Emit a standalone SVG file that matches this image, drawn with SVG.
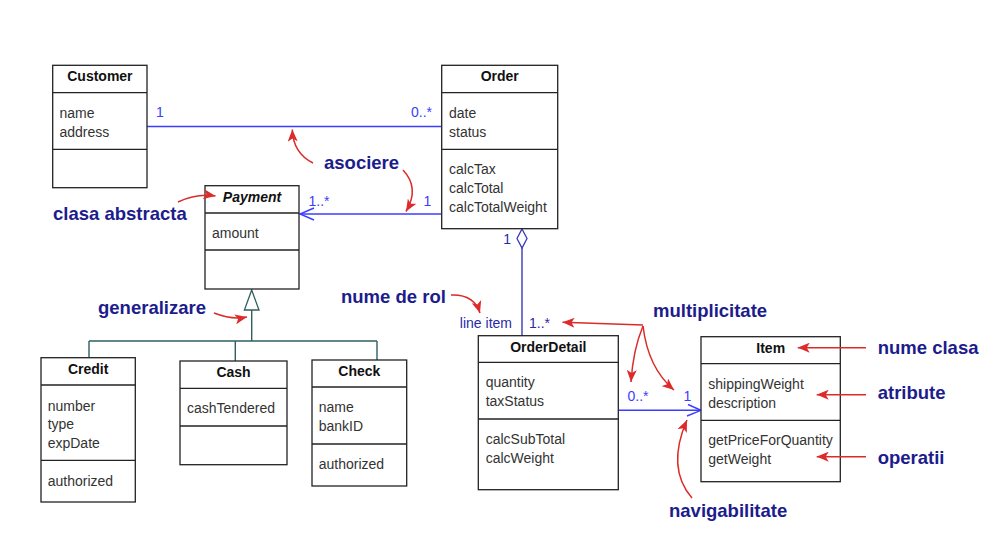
<svg xmlns="http://www.w3.org/2000/svg" width="1001" height="544" viewBox="0 0 1001 544">
<style>
.box{fill:#fff;stroke:#222;stroke-width:1.3}
.div{stroke:#222;stroke-width:1.3}
.title{font-family:"Liberation Sans",Arial,sans-serif;font-size:14px;font-weight:bold;fill:#111;text-anchor:middle}
.attr{font-family:"Liberation Sans",Arial,sans-serif;font-size:14px;fill:#333}
.assoc{stroke:#3c3cff;stroke-width:1.4;fill:none}
.agg{stroke:#3a3ab8;stroke-width:1.4;fill:none}
.gen{stroke:#2f5f5f;stroke-width:1.4;fill:none}
.mult{font-family:"Liberation Sans",Arial,sans-serif;font-size:14px;fill:#3c3cff}
.multd{font-family:"Liberation Sans",Arial,sans-serif;font-size:14px;fill:#2a2aa8}
.note{font-family:"Liberation Sans",Arial,sans-serif;font-size:18.5px;font-weight:bold;fill:#1c1c8c}
.red{stroke:#dd2a2a;stroke-width:1.5;fill:none;marker-end:url(#ra)}
</style>
<defs>
<marker id="ra" viewBox="0 0 12 10" refX="12" refY="5" markerWidth="12" markerHeight="10" markerUnits="userSpaceOnUse" orient="auto">
<path d="M0,0 L12,5 L0,10 L3,5 z" fill="#dd2a2a"/>
</marker>
</defs>
<rect width="1001" height="544" fill="#fff"/>

<g id="connectors">
<line class="assoc" x1="147" y1="126.5" x2="441.5" y2="126.5"/>
<line class="assoc" x1="300" y1="214" x2="441.5" y2="214"/>
<polyline class="assoc" points="314,208 300,214 314,220"/>
<line class="agg" x1="522" y1="248" x2="522" y2="335.5"/>
<polygon points="522,229 527,238.5 522,248 517,238.5" fill="#fff" stroke="#3a3ab8" stroke-width="1.3"/>
<line class="assoc" x1="618.5" y1="410.3" x2="701" y2="410.3"/>
<polyline class="assoc" points="688,404.5 701,410.3 687,416"/>
<polygon points="251.7,290 259,310 244.4,310" fill="#fff" stroke="#2f5f5f" stroke-width="1.3"/>
<line class="gen" x1="251.7" y1="310" x2="251.7" y2="341"/>
<line class="gen" x1="89" y1="341" x2="377" y2="341"/>
<line class="gen" x1="89" y1="341" x2="89" y2="358"/>
<line class="gen" x1="235.3" y1="341" x2="235.3" y2="361"/>
<line class="gen" x1="377" y1="341" x2="377" y2="360"/>
<text class="mult" x="156" y="117.3">1</text>
<text class="mult" x="411" y="117.3">0..*</text>
<text class="mult" x="308.5" y="205.7">1..*</text>
<text class="mult" x="423.5" y="205.7">1</text>
<text class="multd" x="511" y="244" text-anchor="end">1</text>
<text class="multd" x="512" y="327.7" text-anchor="end">line item</text>
<text class="multd" x="529" y="327.7">1..*</text>
<text class="mult" x="627.5" y="400.7">0..*</text>
<text class="mult" x="683.5" y="400.5">1</text>
</g>

<g id="Customer">
<rect class="box" x="52.7" y="65.3" width="94.3" height="122.4"/>
<line class="div" x1="52.7" y1="92.7" x2="147" y2="92.7"/>
<line class="div" x1="52.7" y1="149.3" x2="147" y2="149.3"/>
<text class="title" x="99.9" y="81.3">Customer</text>
<text class="attr" x="59.5" y="118.2">name</text>
<text class="attr" x="59.5" y="136.8">address</text>
</g>

<g id="Order">
<rect class="box" x="441.7" y="65.3" width="116" height="163.4"/>
<line class="div" x1="441.7" y1="92.7" x2="557.7" y2="92.7"/>
<line class="div" x1="441.7" y1="149.3" x2="557.7" y2="149.3"/>
<text class="title" x="499.7" y="81.3">Order</text>
<text class="attr" x="449" y="118.2">date</text>
<text class="attr" x="449" y="136.8">status</text>
<text class="attr" x="449" y="174.3">calcTax</text>
<text class="attr" x="449" y="192.9">calcTotal</text>
<text class="attr" x="449" y="211.6">calcTotalWeight</text>
</g>

<g id="Payment">
<rect class="box" x="205" y="185.7" width="94" height="103.3"/>
<line class="div" x1="205" y1="213" x2="299" y2="213"/>
<line class="div" x1="205" y1="250" x2="299" y2="250"/>
<text class="title" x="252" y="201.7" font-style="italic">Payment</text>
<text class="attr" x="212" y="238.3">amount</text>
</g>

<g id="Credit">
<rect class="box" x="41" y="357.7" width="94.3" height="144.3"/>
<line class="div" x1="41" y1="385" x2="135.3" y2="385"/>
<line class="div" x1="41" y1="460.3" x2="135.3" y2="460.3"/>
<text class="title" x="88.2" y="374">Credit</text>
<text class="attr" x="47.7" y="410.6">number</text>
<text class="attr" x="47.7" y="429.2">type</text>
<text class="attr" x="47.7" y="447.8">expDate</text>
<text class="attr" x="47.7" y="485.7">authorized</text>
</g>

<g id="Cash">
<rect class="box" x="180" y="361" width="107" height="103.7"/>
<line class="div" x1="180" y1="388.3" x2="287" y2="388.3"/>
<line class="div" x1="180" y1="426" x2="287" y2="426"/>
<text class="title" x="233.5" y="376.8">Cash</text>
<text class="attr" x="187" y="413.4">cashTendered</text>
</g>

<g id="Check">
<rect class="box" x="312" y="360" width="94.7" height="126"/>
<line class="div" x1="312" y1="387" x2="406.7" y2="387"/>
<line class="div" x1="312" y1="444" x2="406.7" y2="444"/>
<text class="title" x="359.3" y="375.8">Check</text>
<text class="attr" x="318.7" y="412.4">name</text>
<text class="attr" x="318.7" y="431">bankID</text>
<text class="attr" x="318.7" y="468.8">authorized</text>
</g>

<g id="OrderDetail">
<rect class="box" x="478.3" y="335.7" width="140" height="154"/>
<line class="div" x1="478.3" y1="362.3" x2="618.3" y2="362.3"/>
<line class="div" x1="478.3" y1="419" x2="618.3" y2="419"/>
<text class="title" x="548.3" y="351.7">OrderDetail</text>
<text class="attr" x="485.7" y="387.4">quantity</text>
<text class="attr" x="485.7" y="406">taxStatus</text>
<text class="attr" x="485.7" y="444.2">calcSubTotal</text>
<text class="attr" x="485.7" y="462.8">calcWeight</text>
</g>

<g id="Item">
<rect class="box" x="701" y="336.7" width="139.3" height="145"/>
<line class="div" x1="701" y1="363.7" x2="840.3" y2="363.7"/>
<line class="div" x1="701" y1="420.3" x2="840.3" y2="420.3"/>
<text class="title" x="770.7" y="352.7">Item</text>
<text class="attr" x="708.3" y="389">shippingWeight</text>
<text class="attr" x="708.3" y="407.6">description</text>
<text class="attr" x="708.3" y="445.4">getPriceForQuantity</text>
<text class="attr" x="708.3" y="464">getWeight</text>
</g>

<g id="annotations">
<text class="note" x="324" y="169">asociere</text>
<path class="red" d="M313,163 Q293,153 292.3,129.5"/>
<path class="red" d="M403,170 Q420,188 406,211.5"/>
<text class="note" x="53" y="219.5">clasa abstracta</text>
<path class="red" d="M178,202 Q197,193 215.5,196"/>
<text class="note" x="98" y="314">generalizare</text>
<path class="red" d="M214,313 Q232,320 247,317"/>
<text class="note" x="341" y="303.3">nume de rol</text>
<path class="red" d="M451,295 Q474,294 480,313"/>
<text class="note" x="653" y="317">multiplicitate</text>
<path class="red" d="M643,325 L562.5,322.3"/>
<path class="red" d="M643,326 Q633,350 631,382"/>
<path class="red" d="M643,326 Q648,368 674,390"/>
<text class="note" x="669" y="517">navigabilitate</text>
<path class="red" d="M692,498 Q666,468 687,420"/>
<text class="note" x="877.7" y="353.5">nume clasa</text>
<path class="red" d="M866,347.7 L797.7,347.7"/>
<text class="note" x="877.7" y="398.5">atribute</text>
<path class="red" d="M866,394.7 L816.7,394.7"/>
<text class="note" x="877.7" y="464">operatii</text>
<path class="red" d="M866,456.7 L816.7,456.7"/>
</g>
</svg>
